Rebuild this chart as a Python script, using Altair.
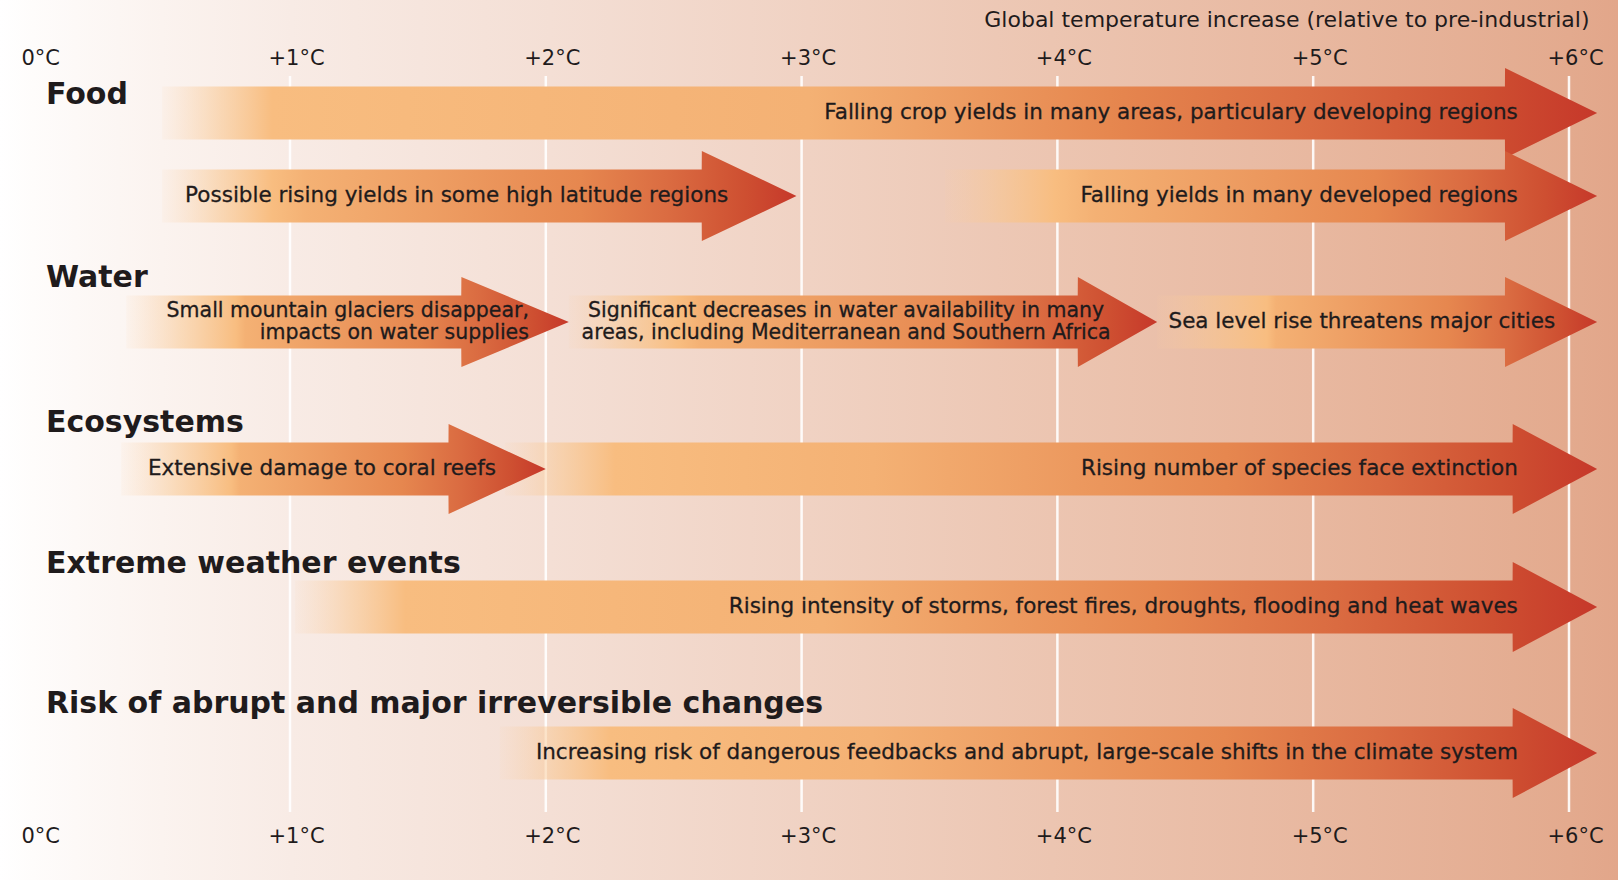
import altair as alt
import pandas as pd

W, H = 1618, 880

# Horizontal scale in degrees C; vertical scale in layout rows (top = 0)
X_DOMAIN = [-0.1337, 6.1916]
Y_DOMAIN = [0, 880]

tick_values = [0, 1, 2, 3, 4, 5, 6]
grid_temps = [1, 2, 3, 4, 5, 6]
grid_span = [76, 812]

categories = [
    "Food",
    "Water",
    "Ecosystems",
    "Extreme weather events",
    "Risk of abrupt and major irreversible changes",
]
category_row = [104, 287, 432, 573, 713]
category_at = 0.046

arrow_text = [
    "Falling crop yields in many areas, particulary developing regions",
    "Possible rising yields in some high latitude regions",
    "Falling yields in many developed regions",
    "Small mountain glaciers disappear,\nimpacts on water supplies",
    "Significant decreases in water availability in many\nareas, including Mediterranean and Southern Africa",
    "Sea level rise threatens major cities",
    "Extensive damage to coral reefs",
    "Rising number of species face extinction",
    "Rising intensity of storms, forest fires, droughts, flooding and heat waves",
    "Increasing risk of dangerous feedbacks and abrupt, large-scale shifts in the climate system",
]
# temperatures where each arrow begins, where its head begins, and its tip
arrow_start = [0.50, 0.50, 3.56, 0.36, 2.09, 4.39, 0.34, 1.84, 1.02, 1.82]
arrow_head = [5.75, 2.61, 5.75, 1.67, 4.08, 5.75, 1.62, 5.78, 5.78, 5.78]
arrow_tip = [6.11, 2.98, 6.11, 2.09, 4.39, 6.11, 2.00, 6.11, 6.11, 6.11]
arrow_row = [113, 196, 196, 322, 322, 322, 469, 469, 607, 753]
label_at = [5.80, 0.59, 5.80, 1.934, 3.174, 5.19, 0.445, 5.80, 5.80, 5.80]
label_row = [113, 196, 196, 311, 311, 322, 469, 469, 607, 753]
label_align = ["right", "left", "right", "right", "center", "center", "left", "right", "right", "right"]
draw_order = [0, 1, 2, 4, 5, 3, 7, 6, 8, 9]

BODY = 26.5    # half thickness of an arrow shaft
HEAD = 45.0    # half height of an arrow head
FADE = 0.43    # degrees over which an arrow tail fades in
STEP = 0.0005  # shaft end sits just before the head's back edge
PX_PER_DEG = 1618 / (X_DOMAIN[1] - X_DOMAIN[0])

FONT = "DejaVu Sans"
INK = "#1f1b1c"

xscale = alt.Scale(domain=X_DOMAIN, nice=False, zero=False)
yscale = alt.Scale(domain=Y_DOMAIN, nice=False, zero=False, reverse=True)


def linear(stops):
    return alt.Gradient(
        gradient="linear",
        stops=[alt.GradientStop(color=c, offset=o) for o, c in stops],
        x1=0, x2=1, y1=0, y2=0,
    )


def arrow_fill(start, tip):
    span = tip - start
    f = min(FADE / span, 0.3)
    # long arrows keep their pale orange for longer before deepening to red
    hold = f + max(0.02, (span * PX_PER_DEG - 500) / 2500)
    return linear([
        (0.0, "rgba(250,206,162,0.08)"),
        (f * 0.5, "rgba(249,198,142,0.55)"),
        (f, "#f8bd80"),
        (hold, "#f4b174"),
        (0.66, "#e6874f"),
        (0.80, "#da6b41"),
        (0.92, "#ce4f31"),
        (1.0, "#c6382a"),
    ])


background_fill = linear([
    (0.0, "#ffffff"),
    (0.02, "#fefcfb"),
    (0.10, "#fbf3ef"),
    (0.18, "#f8ebe5"),
    (0.34, "#f4dfd5"),
    (0.50, "#f0d2c3"),
    (0.65, "#ecc5b1"),
    (0.81, "#e8b8a0"),
    (0.97, "#e3aa8e"),
    (1.0, "#e2a68a"),
])

label_expr = "datum.value == 0 ? '0°C' : '+' + datum.value + '°C'"
axis_common = dict(
    values=tick_values, labelExpr=label_expr, ticks=False, tickSize=0,
    domain=False, grid=False, labelPadding=0, labelBaseline="alphabetic",
    labelFont=FONT, labelFontSize=21, labelColor=INK, labelOffset=6,
    labelFlush=False, labelOverlap=False, zindex=1,
)
top_axis = alt.Axis(
    orient="top", offset=-64,
    title="Global temperature increase (relative to pre-industrial)",
    titleX=1589, titleY=-38, titleAlign="right", titleBaseline="alphabetic",
    titleFont=FONT, titleFontSize=22, titleFontWeight="normal", titleColor=INK,
    **axis_common,
)
bottom_axis = alt.Axis(orient="bottom", offset=-38, title=None, **axis_common)

# backdrop shading across the whole figure
bg = pd.DataFrame({"x0": [X_DOMAIN[0]], "x1": [X_DOMAIN[1]], "y0": [Y_DOMAIN[0]], "y1": [Y_DOMAIN[1]]})
backdrop = alt.Chart(bg).mark_rect(color=background_fill).encode(
    x=alt.X("x0:Q", scale=xscale, axis=bottom_axis),
    x2="x1:Q",
    y=alt.Y("y0:Q", scale=yscale, axis=None),
    y2="y1:Q",
)

# white guide lines at each whole degree
grid_df = pd.DataFrame({"t": grid_temps, "y0": grid_span[0], "y1": grid_span[1]})
grid = alt.Chart(grid_df).mark_rule(color="white", strokeWidth=2.5, opacity=0.9).encode(
    x=alt.X("t:Q", scale=xscale, axis=top_axis),
    y=alt.Y("y0:Q", scale=yscale, axis=None),
    y2="y1:Q",
)

# one shaded arrow per impact
arrows = []
for i in draw_order:
    c = arrow_row[i]
    shape = pd.DataFrame({
        "t": [arrow_start[i], arrow_head[i] - STEP, arrow_head[i], arrow_tip[i]],
        "top": [c - BODY, c - BODY, c - HEAD, c],
        "bottom": [c + BODY, c + BODY, c + HEAD, c],
    })
    arrows.append(
        alt.Chart(shape).mark_area(orient="vertical", color=arrow_fill(arrow_start[i], arrow_tip[i])).encode(
            x=alt.X("t:Q", scale=xscale, axis=None),
            y=alt.Y("top:Q", scale=yscale, axis=None),
            y2="bottom:Q",
        )
    )

labels_df = pd.DataFrame({"text": arrow_text, "t": label_at, "row": label_row, "align": label_align})
labels_df["lines"] = labels_df["text"].str.count("\n") + 1
text_layers = []
for a in ["left", "center", "right"]:
    for multi in (False, True):
        part = labels_df[(labels_df["align"] == a) & ((labels_df["lines"] > 1) == multi)]
        if part.empty:
            continue
        text_layers.append(
            alt.Chart(part).mark_text(
                align=a, baseline="middle", font=FONT, fontSize=20.5 if multi else 21.5,
                color=INK, stroke=INK, strokeWidth=0.3,
                lineBreak="\n", lineHeight=22,
            ).encode(
                x=alt.X("t:Q", scale=xscale, axis=None),
                y=alt.Y("row:Q", scale=yscale, axis=None),
                text="text:N",
            )
        )

cat_df = pd.DataFrame({"name": categories, "row": category_row, "t": category_at})
category_labels = alt.Chart(cat_df).mark_text(
    align="left", baseline="alphabetic", font=FONT, fontSize=30, fontWeight="bold", color=INK,
).encode(
    x=alt.X("t:Q", scale=xscale, axis=None),
    y=alt.Y("row:Q", scale=yscale, axis=None),
    text="name:N",
)

chart = alt.layer(
    backdrop, grid, *arrows, *text_layers, category_labels
).resolve_axis(x="independent").properties(
    width=W, height=H, padding=0,
    autosize=alt.AutoSizeParams(type="none"),
).configure_view(stroke=None)

chart.save("out.html", embed_options={"renderer": "svg", "actions": False})
